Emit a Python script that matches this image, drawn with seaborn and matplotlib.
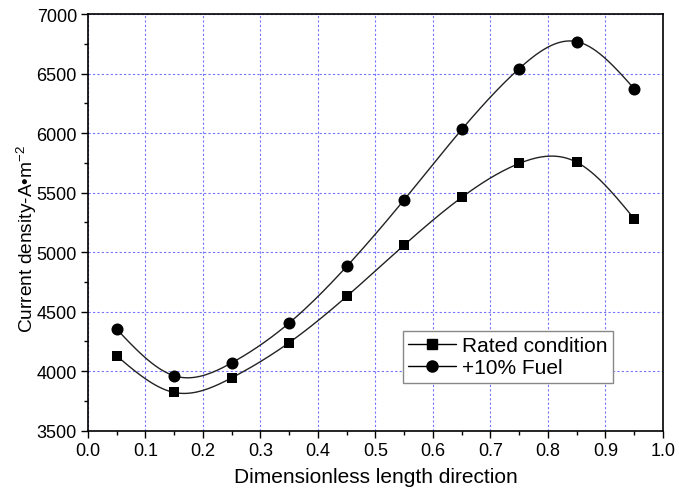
import numpy as np
import pandas as pd
import matplotlib
matplotlib.use("Agg")
import matplotlib.pyplot as plt
from matplotlib.lines import Line2D
from matplotlib.ticker import MultipleLocator
import seaborn as sns

x_pos = [0.05, 0.15, 0.25, 0.35, 0.45, 0.55, 0.65, 0.75, 0.85, 0.95]
rated = [4128, 3821, 3944, 4240, 4628, 5060, 5460, 5745, 5755, 5280]
fuel = [4352, 3961, 4070, 4405, 4880, 5440, 6030, 6542, 6768, 6372]
series_names = ["Rated condition", "+10% Fuel"]


def natural_spline(x, y, n=300):
    x = np.asarray(x, float)
    y = np.asarray(y, float)
    k = len(x)
    h = np.diff(x)
    A = np.zeros((k, k))
    b = np.zeros(k)
    A[0, 0] = 1
    A[-1, -1] = 1
    for i in range(1, k - 1):
        A[i, i - 1] = h[i - 1]
        A[i, i] = 2 * (h[i - 1] + h[i])
        A[i, i + 1] = h[i]
        b[i] = 6 * ((y[i + 1] - y[i]) / h[i] - (y[i] - y[i - 1]) / h[i - 1])
    M = np.linalg.solve(A, b)
    xs = np.linspace(x[0], x[-1], n)
    idx = np.clip(np.searchsorted(x, xs) - 1, 0, k - 2)
    x0, x1 = x[idx], x[idx + 1]
    hh = x1 - x0
    ys = (M[idx] * (x1 - xs) ** 3 / (6 * hh) + M[idx + 1] * (xs - x0) ** 3 / (6 * hh)
          + (y[idx] / hh - M[idx] * hh / 6) * (x1 - xs)
          + (y[idx + 1] / hh - M[idx + 1] * hh / 6) * (xs - x0))
    return xs, ys


sns.set_theme(style="white")
plt.rcParams["font.family"] = ["Liberation Sans", "DejaVu Sans"]
plt.rcParams["mathtext.fontset"] = "custom"
plt.rcParams["mathtext.rm"] = "Liberation Sans"
plt.rcParams["mathtext.it"] = "Liberation Sans"
plt.rcParams["mathtext.default"] = "regular"
plt.rcParams["text.color"] = "black"
plt.rcParams["axes.labelcolor"] = "black"
plt.rcParams["xtick.color"] = "black"
plt.rcParams["ytick.color"] = "black"

fig = plt.figure(figsize=(6.79, 4.89), dpi=100)
ax = fig.add_axes([0.1296, 0.1172, 0.8468, 0.8521])

markers = ["s", "o"]
for name, vals, mk in zip(series_names, [rated, fuel], markers):
    xs, ys = natural_spline(x_pos, vals)
    sns.lineplot(x=xs, y=ys, ax=ax, color="#222222", linewidth=1.0, sort=False)
    df = pd.DataFrame({"x": x_pos, "y": vals})
    sns.scatterplot(data=df, x="x", y="y", ax=ax, marker=mk, color="black",
                    s=60 if mk == "s" else 75, edgecolor="black", linewidth=0, zorder=5)

ax.set_xlim(0.0, 1.0)
ax.set_ylim(3500, 7000)
ax.xaxis.set_major_locator(MultipleLocator(0.1))
ax.xaxis.set_minor_locator(MultipleLocator(0.05))
ax.yaxis.set_major_locator(MultipleLocator(500))
ax.yaxis.set_minor_locator(MultipleLocator(250))
ax.set_xticks(np.round(np.arange(0, 1.01, 0.1), 1))
ax.set_xticklabels([f"{v:.1f}" for v in np.arange(0, 1.01, 0.1)])

ax.grid(True, which="major", color="#5a5aff", linestyle=(0, (2, 2)), linewidth=0.8, alpha=0.85)
ax.tick_params(axis="both", which="major", direction="out", length=5, width=1,
               labelsize=13, color="black", bottom=True, left=True, top=False, right=False,
               pad=3)
ax.tick_params(axis="both", which="minor", direction="out", length=3, width=1,
               color="black", bottom=True, left=True, top=False, right=False)
for sp in ax.spines.values():
    sp.set_visible(True)
    sp.set_color("black")
    sp.set_linewidth(1.2)

ax.set_xlabel("Dimensionless length direction", fontsize=15, labelpad=6)
ax.set_ylabel("Current density-A\u2022m$^{-2}$", fontsize=13.8)
ax.yaxis.set_label_coords(-0.086, 0.462)

handles = [
    Line2D([0], [0], color="black", linewidth=1.0, marker="s", markersize=7),
    Line2D([0], [0], color="black", linewidth=1.0, marker="o", markersize=8),
]
leg = ax.legend(handles, series_names, loc="upper left", bbox_to_anchor=(0.548, 0.239),
                fontsize=15, frameon=True, fancybox=False, edgecolor="#888888",
                framealpha=1, borderpad=0.25, handlelength=2.3, handletextpad=0.3,
                labelspacing=0.15, borderaxespad=0)
leg.get_frame().set_linewidth(1.0)

fig.savefig("out.png", dpi=100)
